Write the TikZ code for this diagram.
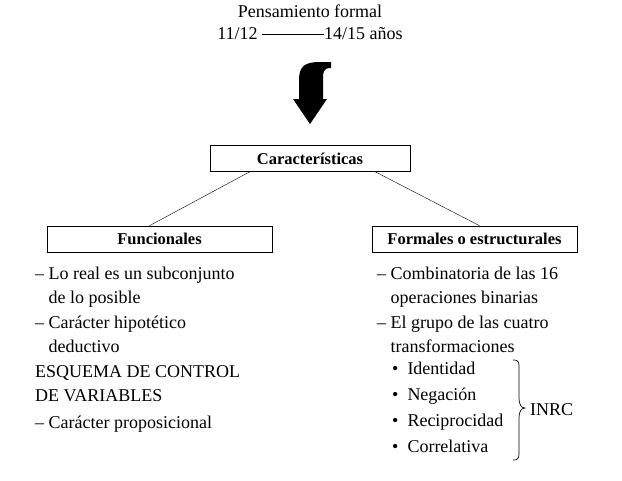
\documentclass[tikz,border=0pt]{standalone}
\usepackage{fontspec}
\setmainfont{Liberation Serif}
\begin{document}
\begin{tikzpicture}[x=1pt,y=-1pt,
  box/.style={draw,line width=0.6pt,minimum height=26pt,font=\fontsize{16.5}{18}\selectfont\bfseries},
  txt/.style={anchor=north west,align=left,font=\fontsize{18}{24}\selectfont,inner sep=0pt}]
\useasboundingbox (0,0) rectangle (622,480);
\node[font=\fontsize{18}{22}\selectfont,align=center] (title) at (310,22) {Pensamiento formal\\11/12 \rule[5pt]{62pt}{0.6pt}14/15 años};
\fill (331,62) -- (331,68) .. controls (323,68) and (323,72) .. (323,80) -- (323,99) -- (327,99) -- (310,124) -- (293,99) -- (299,99) -- (299,80) .. controls (299,66) and (305,62) .. (320,62) -- cycle;
\node[box,minimum width=200pt] (car) at (310,158.5) {Características};
\node[box,minimum width=225pt] (fun) at (159.5,239) {Funcionales};
\node[box,minimum width=205pt] (for) at (474.5,239) {Formales o estructurales};
\draw (car.south west) ++(40,0) coordinate (c1) (c1) -- ([xshift=-10pt]fun.north);
\draw (car.south east) ++(-35,0) coordinate (c2) (c2) -- ([xshift=5pt]for.north);
\node[txt] (l1) at (35,267) {– Lo real es un subconjunto\\\phantom{– }de lo posible};
\node[txt] (l2) at (35,316) {– Carácter hipotético\\\phantom{– }deductivo};
\node[txt] (l3) at (35,365) {ESQUEMA DE CONTROL\\DE VARIABLES};
\node[txt] (l4) at (35,416) {– Carácter proposicional};
\node[txt] (r1) at (377,267) {– Combinatoria de las 16\\\phantom{– }operaciones binarias};
\node[txt] (r2) at (377,316) {– El grupo de las cuatro\\\phantom{– }transformaciones};
\node[txt] (b1) at (392,362) {\textbullet\ \ Identidad};
\node[txt] (b2) at (392,388) {\textbullet\ \ Negación};
\node[txt] (b3) at (392,414) {\textbullet\ \ Reciprocidad};
\node[txt] (b4) at (392,440) {\textbullet\ \ Correlativa};
\draw[line width=0.7pt] (513,360) .. controls (520,360) and (519,363) .. (519,372) -- (519,398) .. controls (519,404) and (521,408) .. (525,408) .. controls (521,408) and (519,412) .. (519,418) -- (519,448) .. controls (519,457) and (520,460) .. (513,460);
\node[txt,anchor=west] (inrc) at (530,410) {INRC};
\end{tikzpicture}
\end{document}
